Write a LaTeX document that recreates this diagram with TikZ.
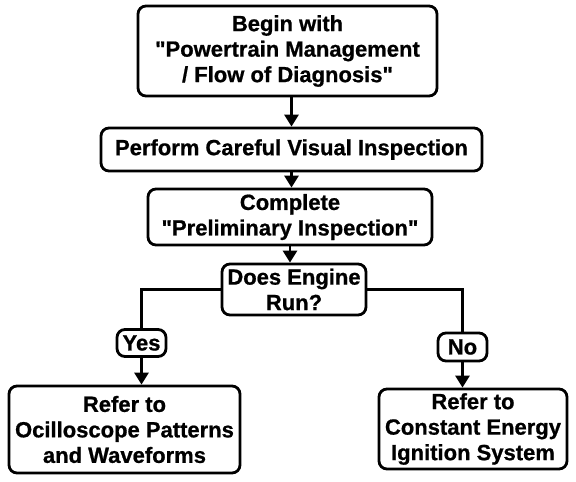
\documentclass[tikz,border=0pt]{standalone}
\usepackage{fontspec}
\setmainfont{Liberation Sans}[Ligatures=TeXOff, BoldFeatures={FakeBold=0.8}]
\usetikzlibrary{arrows.meta}
\begin{document}
\begin{tikzpicture}[x=1pt,y=-1pt,
  box/.style={draw, line width=2.8pt, rounded corners=8pt, align=center, inner sep=0pt,
    font=\bfseries\fontsize{22}{25.5}\selectfont},
  conn/.style={line width=2.8pt},
  arr/.style={line width=2.8pt, -{Triangle[width=14pt,length=12pt]}}]
\useasboundingbox (0,0) rectangle (576,482);
\node[box, minimum width=299pt, minimum height=90pt] (b1) at (287.5,51)
  {Begin with\\"Powertrain Management\\/ Flow of Diagnosis"};
\node[box, minimum width=381pt, minimum height=43pt] (b2) at (291.5,149.5)
  {Perform Careful Visual Inspection};
\node[box, minimum width=284pt, minimum height=56pt] (b3) at (290,217)
  {Complete\\"Preliminary Inspection"};
\node[box, minimum width=144pt, minimum height=51pt] (b4) at (294,289.5)
  {Does Engine\\Run?};
\node[box, minimum width=49pt, minimum height=27pt] (yes) at (141.5,343) {Yes};
\node[box, minimum width=49pt, minimum height=28pt] (no) at (462.5,347) {No};
\node[box, minimum width=231pt, minimum height=87pt] (left) at (124.5,429.5)
  {Refer to\\Ocilloscope Patterns\\and Waveforms};
\node[box, minimum width=188pt, minimum height=80pt] (right) at (473,429)
  {Refer to\\Constant Energy\\Ignition System};
\draw[arr] (b1.south -| b2.north) -- (b2.north);
\draw[arr] (b2.south) -- (b2.south |- b3.north);
\draw[arr] (b3.south) -- (b3.south |- b4.north);
\draw[conn] (b4.west) -| (yes.north);
\draw[conn] (b4.east) -| (no.north);
\draw[arr] (yes.south) -- (yes.south |- left.north);
\draw[arr] (no.south) -- (no.south |- right.north);
\end{tikzpicture}
\end{document}
